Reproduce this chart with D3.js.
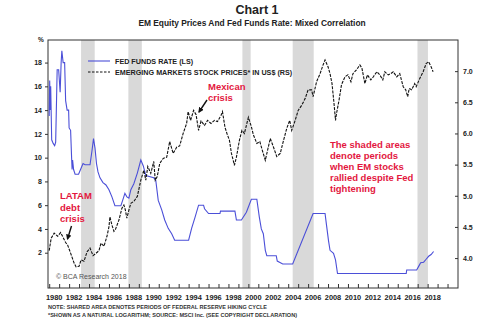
<!DOCTYPE html>
<html>
<head>
<meta charset="utf-8">
<script src="https://cdn.jsdelivr.net/npm/d3@7"></script>
<style>
  body { margin: 0; background: #fff; }
  svg { font-family: "Liberation Sans", Arial, Helvetica, sans-serif; }
</style>
</head>
<body>
<div id="chart"></div>
<script>
// fed funds rate (%)
const ffYears = [1980.0, 1980.05, 1980.1, 1980.15, 1980.25, 1980.4, 1980.55, 1980.65, 1980.8, 1980.95,
  1981.1, 1981.2, 1981.27, 1981.4, 1981.55, 1981.65, 1981.8, 1981.95, 1982.0, 1982.15,
  1982.25, 1982.3, 1982.35, 1982.45, 1982.6, 1982.95, 1983.2, 1983.4, 1983.6, 1984.1,
  1984.3, 1984.45, 1984.6, 1984.75, 1984.9, 1985.1, 1985.4, 1985.7, 1986.0, 1986.3,
  1986.6, 1987.2, 1987.45, 1987.6, 1987.8, 1988.0, 1988.2, 1988.5, 1988.85, 1989.2,
  1989.45, 1989.7, 1990.5, 1990.7, 1990.95, 1991.3, 1991.6, 1991.95, 1992.3, 1992.6,
  1994.0, 1994.3, 1994.65, 1995.0, 1995.5, 1995.6, 1996.0, 1997.15, 1997.2, 1998.65,
  1998.8, 1999.3, 1999.8, 2000.3, 2000.85, 2001.1, 2001.3, 2001.5, 2001.7, 2001.85,
  2002.8, 2002.9, 2003.45, 2004.45, 2006.5, 2007.7, 2007.85, 2008.05, 2008.2, 2008.55,
  2008.75, 2008.95, 2015.85, 2015.9, 2016.9, 2017.1, 2017.3, 2017.6, 2017.85, 2018.1,
  2018.35, 2018.6];
const ffRates = [13.5, 16.5, 14.0, 16.0, 11.5, 11.2, 11.0, 11.3, 17.4, 17.4,
  15.5, 18.0, 19.0, 18.0, 18.0, 14.8, 14.0, 14.0, 12.5, 12.3,
  10.0, 9.0, 9.8, 9.0, 8.6, 8.6, 9.1, 9.5, 9.4, 9.4,
  10.6, 11.6, 10.8, 9.5, 8.8, 8.3, 7.9, 7.7, 7.3, 6.7,
  5.95, 5.95, 6.6, 7.0, 6.7, 6.6, 7.3, 7.8, 8.7, 9.8,
  9.3, 8.5, 8.3, 8.1, 6.4, 5.6, 4.75, 4.05, 3.6, 3.05,
  3.05, 4.05, 5.0, 6.0, 6.0, 5.7, 5.3, 5.3, 5.5, 5.5,
  4.75, 4.75, 5.4, 6.5, 6.5, 5.0, 4.0, 3.6, 2.2, 1.75,
  1.75, 1.3, 1.05, 1.05, 5.3, 5.3, 4.3, 3.0, 2.2, 1.95,
  1.4, 0.25, 0.25, 0.55, 0.55, 0.85, 1.15, 1.2, 1.45, 1.7,
  1.85, 2.1];

// EM stock prices in US$ (natural log)
const emYears = [1980.0, 1980.2, 1980.5, 1980.85, 1981.15, 1981.5, 1981.65, 1981.85, 1982.15, 1982.5,
  1982.7, 1983.0, 1983.2, 1983.5, 1983.8, 1984.1, 1984.4, 1984.65, 1985.0, 1985.2,
  1985.5, 1985.8, 1986.0, 1986.1, 1986.3, 1986.5, 1986.65, 1987.0, 1987.3, 1987.5,
  1987.65, 1987.8, 1988.0, 1988.2, 1988.5, 1988.85, 1989.2, 1989.5, 1989.7, 1989.9,
  1990.2, 1990.5, 1990.65, 1990.85, 1991.1, 1991.45, 1991.8, 1992.1, 1992.45, 1992.8,
  1993.1, 1993.45, 1993.8, 1993.95, 1994.2, 1994.5, 1994.75, 1995.0, 1995.25, 1995.6,
  1995.9, 1996.25, 1996.6, 1996.9, 1997.25, 1997.4, 1997.65, 1997.85, 1998.1, 1998.3,
  1998.6, 1998.8, 1999.1, 1999.35, 1999.6, 2000.0, 2000.3, 2000.5, 2000.85, 2001.15,
  2001.4, 2001.7, 2002.2, 2002.5, 2002.85, 2003.2, 2003.5, 2003.85, 2004.15, 2004.35,
  2004.7, 2005.0, 2005.35, 2005.7, 2006.0, 2006.35, 2006.5, 2006.85, 2007.2, 2007.5,
  2007.7, 2008.0, 2008.2, 2008.4, 2008.6, 2008.75, 2008.85, 2009.1, 2009.35, 2009.7,
  2010.0, 2010.3, 2010.5, 2010.85, 2011.2, 2011.4, 2011.7, 2011.95, 2012.3, 2012.55,
  2012.9, 2013.2, 2013.5, 2013.7, 2014.05, 2014.3, 2014.55, 2014.9, 2015.2, 2015.55,
  2015.8, 2016.0, 2016.15, 2016.4, 2016.7, 2016.85, 2017.2, 2017.55, 2017.85, 2018.1,
  2018.35, 2018.55];
const emLogPrices = [4.12, 4.32, 4.40, 4.35, 4.41, 4.30, 4.25, 4.21, 4.08, 3.92,
  3.86, 3.87, 3.97, 3.95, 4.10, 4.16, 4.04, 4.07, 4.12, 4.24,
  4.19, 4.35, 4.50, 4.66, 4.53, 4.43, 4.46, 4.61, 4.80, 4.85,
  4.77, 4.64, 4.77, 4.88, 4.91, 4.99, 5.25, 5.41, 5.25, 5.47,
  5.36, 5.55, 5.25, 5.31, 5.52, 5.60, 5.62, 5.87, 5.68, 5.78,
  5.80, 6.00, 6.16, 6.35, 6.21, 6.37, 6.30, 6.05, 6.20, 6.13,
  6.21, 6.16, 6.21, 6.19, 6.29, 6.35, 6.10, 6.00, 5.89, 5.68,
  5.49, 5.62, 5.89, 6.05, 6.00, 6.26, 6.11, 5.98, 5.84, 5.87,
  5.73, 5.57, 5.92, 5.79, 5.63, 5.68, 5.87, 6.08, 6.21, 6.05,
  6.21, 6.37, 6.45, 6.56, 6.70, 6.70, 6.59, 6.83, 6.96, 7.10,
  7.18, 7.07, 6.96, 6.80, 6.48, 6.21, 6.32, 6.53, 6.78, 6.91,
  6.94, 6.83, 6.96, 7.02, 7.10, 7.05, 6.80, 6.94, 6.86, 6.91,
  6.99, 6.94, 6.86, 6.99, 6.94, 6.96, 6.99, 6.91, 6.96, 6.75,
  6.70, 6.59, 6.72, 6.70, 6.80, 6.75, 6.88, 6.99, 7.12, 7.15,
  7.07, 6.99];

// fed hiking cycles (shaded)
const hikeStart = [1983.2, 1987.95, 1999.4, 2004.45, 2016.98];
const hikeEnd = [1984.57, 1989.3, 2000.23, 2006.56, 2018.03];

const xTickYears = d3.range(1980, 2021);
const xLabelYears = d3.range(1980, 2019, 2);
const leftTicks = [2, 4, 6, 8, 10, 12, 14, 16, 18];
const rightTicks = [4.0, 4.5, 5.0, 5.5, 6.0, 6.5, 7.0];

const width = 500;
const height = 324;
const plotL = 48, plotR = 458, plotT = 40, plotB = 288;
const red = "#e3173e";
const blue = "#4b4fd8";

let svg = d3.select("#chart").append("svg")
  .attr("width", width)
  .attr("height", height);

let x = d3.scaleLinear().domain([1979.88, 2021.05]).range([plotL, plotR]);
let yL = d3.scaleLinear().domain([-0.97, 19.9]).range([plotB, plotT]);
let yR = d3.scaleLinear().domain([3.52, 7.5]).range([plotB, plotT]);

// shaded hiking cycles
svg.selectAll("rect.hike")
  .data(hikeStart)
  .enter()
  .append("rect")
  .attr("class", "hike")
  .attr("x", (d) => x(d))
  .attr("y", plotT)
  .attr("width", (d, i) => x(hikeEnd[i]) - x(d))
  .attr("height", plotB - plotT)
  .attr("fill", "#d9d9d9");

// titles
svg.append("text")
  .attr("x", 257).attr("y", 14)
  .attr("text-anchor", "middle")
  .style("font-size", "12.5px").style("font-weight", "bold").attr("fill", "#222")
  .text("Chart 1");
svg.append("text")
  .attr("x", 252).attr("y", 26)
  .attr("text-anchor", "middle")
  .style("font-size", "8.4px").style("font-weight", "bold").attr("fill", "#222")
  .text("EM Equity Prices And Fed Funds Rate: Mixed Correlation");

// axes
let xAxis = d3.axisBottom(x).tickValues(xTickYears).tickSize(-4).tickFormat("");
svg.append("g")
  .attr("transform", "translate(0," + plotB + ")")
  .call(xAxis)
  .call((g) => g.select(".domain").remove())
  .call((g) => g.selectAll("line").attr("stroke", "#333"));

svg.selectAll("text.xlab")
  .data(xLabelYears)
  .enter()
  .append("text")
  .attr("class", "xlab")
  .attr("x", (d) => x(d + 0.5))
  .attr("y", 300)
  .attr("text-anchor", "middle")
  .style("font-size", "7.4px").style("font-weight", "bold").attr("fill", "#222")
  .text((d) => d);

let yAxisL = d3.axisLeft(yL).tickValues(leftTicks).tickSize(3).tickPadding(3);
svg.append("g")
  .attr("transform", "translate(" + plotL + ",0)")
  .call(yAxisL)
  .call((g) => g.select(".domain").remove())
  .call((g) => g.selectAll("line").attr("stroke", "#333"))
  .call((g) => g.selectAll("text")
    .style("font-size", "7px").style("font-weight", "bold").attr("fill", "#222")
    .attr("font-family", null));

let yAxisR = d3.axisRight(yR).tickValues(rightTicks).tickSize(-3).tickPadding(5)
  .tickFormat(d3.format(".1f"));
svg.append("g")
  .attr("transform", "translate(" + plotR + ",0)")
  .call(yAxisR)
  .call((g) => g.select(".domain").remove())
  .call((g) => g.selectAll("line").attr("stroke", "#333"))
  .call((g) => g.selectAll("text")
    .style("font-size", "7px").style("font-weight", "bold").attr("fill", "#222")
    .attr("font-family", null));

// frame
svg.append("rect")
  .attr("x", plotL).attr("y", plotT)
  .attr("width", plotR - plotL).attr("height", plotB - plotT)
  .attr("fill", "none").attr("stroke", "#333").attr("stroke-width", 1);

svg.append("text")
  .attr("x", 41).attr("y", 42)
  .attr("text-anchor", "middle")
  .style("font-size", "6.5px").style("font-weight", "bold").attr("fill", "#222")
  .text("%");

// series
let ffLine = d3.line()
  .x((d, i) => x(ffYears[i]))
  .y((d) => yL(d));
svg.append("path")
  .datum(ffRates)
  .attr("d", ffLine)
  .attr("fill", "none")
  .attr("stroke", blue)
  .attr("stroke-width", 1.1);

let emLine = d3.line()
  .x((d, i) => x(emYears[i]))
  .y((d) => yR(d));
svg.append("path")
  .datum(emLogPrices)
  .attr("d", emLine)
  .attr("fill", "none")
  .attr("stroke", "#111")
  .attr("stroke-width", 1.1)
  .attr("stroke-dasharray", "3,1.2");

// legend
svg.append("line")
  .attr("x1", 88).attr("x2", 110).attr("y1", 61).attr("y2", 61)
  .attr("stroke", blue).attr("stroke-width", 1.1);
svg.append("line")
  .attr("x1", 88).attr("x2", 110).attr("y1", 72).attr("y2", 72)
  .attr("stroke", "#111").attr("stroke-dasharray", "2.5,1.5");
svg.append("text")
  .attr("x", 115).attr("y", 63.5)
  .style("font-size", "7.2px").style("font-weight", "bold").attr("fill", "#222")
  .text("FED FUNDS RATE (LS)");
svg.append("text")
  .attr("x", 115).attr("y", 74.5)
  .style("font-size", "7.2px").style("font-weight", "bold").attr("fill", "#222")
  .text("EMERGING MARKETS STOCK PRICES* IN US$ (RS)");

// annotations
function note(lines, x0, y0, lh) {
  svg.append("text")
    .attr("x", x0).attr("y", y0)
    .style("font-size", "9.5px").style("font-weight", "bold").attr("fill", red)
    .selectAll("tspan")
    .data(lines)
    .enter()
    .append("tspan")
    .attr("x", x0)
    .attr("dy", (d, i) => (i == 0 ? 0 : lh))
    .text((d) => d);
}
note(["Mexican", "crisis"], 208, 90, 11);
note(["LATAM", "debt", "crisis"], 60, 199, 11.5);
note(["The shaded areas", "denote periods", "when EM stocks", "rallied despite Fed", "tightening"], 330, 148, 10.9);

svg.append("defs").append("marker")
  .attr("id", "arrow")
  .attr("viewBox", "0 0 10 10")
  .attr("refX", 8).attr("refY", 5)
  .attr("markerWidth", 4).attr("markerHeight", 4)
  .attr("orient", "auto")
  .append("path")
  .attr("d", "M0,0L10,5L0,10z")
  .attr("fill", "#111");

svg.append("line")
  .attr("x1", 207).attr("y1", 100).attr("x2", 199).attr("y2", 112)
  .attr("stroke", "#111").attr("stroke-width", 1.4)
  .attr("marker-end", "url(#arrow)");
svg.append("line")
  .attr("x1", 71.5).attr("y1", 226).attr("x2", 67.5).attr("y2", 239)
  .attr("stroke", "#111").attr("stroke-width", 1.4)
  .attr("marker-end", "url(#arrow)");

svg.append("text")
  .attr("x", 56).attr("y", 279)
  .style("font-size", "7px").attr("fill", "#555")
  .text("© BCA Research 2018");

svg.append("text")
  .attr("x", 48).attr("y", 309)
  .attr("textLength", 219).attr("lengthAdjust", "spacingAndGlyphs")
  .style("font-size", "6px").style("font-weight", "bold").attr("fill", "#333")
  .text("NOTE: SHARED AREA DENOTES PERIODS OF FEDERAL RESERVE HIKING CYCLE");
svg.append("text")
  .attr("x", 48).attr("y", 317)
  .attr("textLength", 249).attr("lengthAdjust", "spacingAndGlyphs")
  .style("font-size", "6px").style("font-weight", "bold").attr("fill", "#333")
  .text("*SHOWN AS A NATURAL LOGARITHM; SOURCE: MSCI Inc. (SEE COPYRIGHT DECLARATION)");
</script>
</body>
</html>
